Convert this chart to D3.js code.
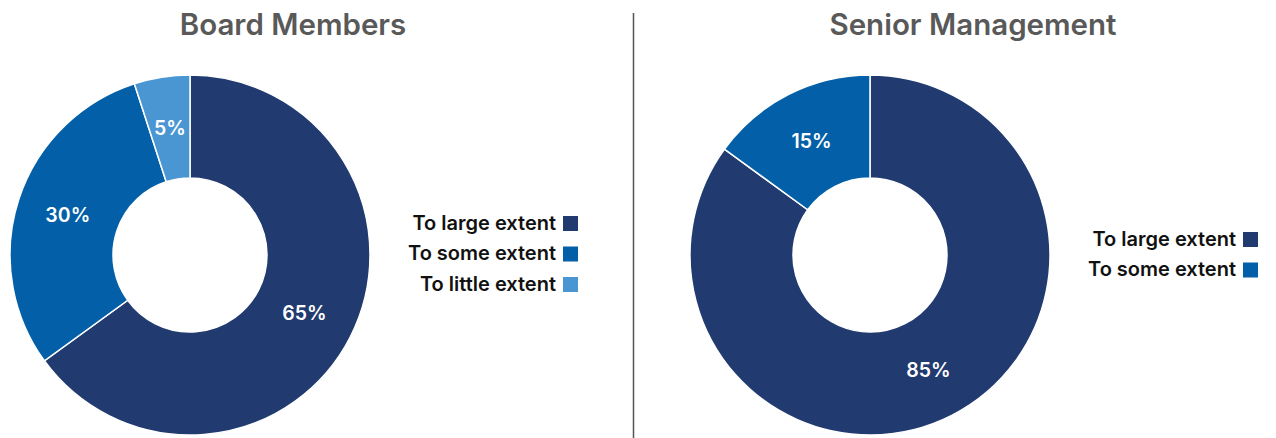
<!DOCTYPE html>
<html>
<head>
<meta charset="utf-8">
<script src="https://cdn.jsdelivr.net/npm/d3@7"></script>
<style>
  html, body { margin: 0; padding: 0; background: #ffffff; }
  svg { display: block; }
  text { font-family: "Inter", "Open Sans", sans-serif; }
</style>
</head>
<body>
<svg id="chart" width="1276" height="438"></svg>
<script>
// Survey responses by group
const categories = ["To large extent", "To some extent", "To little extent"];
const boardValues = [65, 30, 5];
const seniorValues = [85, 15];
const chartTitles = ["Board Members", "Senior Management"];
const colors = ["#213a70", "#0360a8", "#4a96d2"];

const svg = d3.select("#chart");

const panels = [
  { title: chartTitles[0], values: boardValues, cx: 190, cy: 255, titleX: 293,
    legendRight: 578, legendTop: 216 },
  { title: chartTitles[1], values: seniorValues, cx: 870, cy: 255, titleX: 973,
    legendRight: 1258, legendTop: 232 }
];

const outerR = 180, innerR = 77;
const pie = d3.pie().sort(null).value(d => d.value);
const arc = d3.arc().innerRadius(innerR).outerRadius(outerR);

const color = d3.scaleOrdinal().domain(categories).range(colors);

panels.forEach(p => {
  const data = p.values.map((v, i) => ({ name: categories[i], value: v }));
  const g = svg.append("g").attr("transform", `translate(${p.cx},${p.cy})`);

  const arcs = pie(data);
  g.selectAll("path")
    .data(arcs)
    .join("path")
    .attr("d", arc)
    .attr("fill", d => color(d.data.name))
    .attr("stroke", "#ffffff")
    .attr("stroke-width", 1.5);

  g.selectAll("text.val")
    .data(arcs)
    .join("text")
    .attr("class", "val")
    .attr("transform", d => `translate(${arc.centroid(d)})`)
    .attr("text-anchor", "middle")
    .attr("dy", "0.36em")
    .attr("fill", "#ffffff")
    .attr("font-size", 19.5)
    .attr("font-weight", 600)
    .text(d => d.data.value + "%");

  svg.append("text")
    .attr("x", p.titleX)
    .attr("y", 35)
    .attr("text-anchor", "middle")
    .attr("fill", "#595959")
    .attr("font-size", 29.5)
    .attr("font-weight", 600)
    .text(p.title);

  // Legend: labels right-aligned next to colour squares
  const leg = svg.append("g");
  const row = leg.selectAll("g")
    .data(data)
    .join("g")
    .attr("transform", (d, i) => `translate(${p.legendRight - 15},${p.legendTop + i * 30.5})`);
  row.append("rect")
    .attr("width", 15).attr("height", 15)
    .attr("fill", d => color(d.name));
  row.append("text")
    .attr("x", -7)
    .attr("y", 13.5)
    .attr("text-anchor", "end")
    .attr("fill", "#111111")
    .attr("font-size", 20)
    .attr("font-weight", 600)
    .text(d => d.name);
});

// Divider between the two panels
svg.append("line")
  .attr("x1", 633.5).attr("x2", 633.5)
  .attr("y1", 13).attr("y2", 438)
  .attr("stroke", "#555555")
  .attr("stroke-width", 1.5);
</script>
</body>
</html>
